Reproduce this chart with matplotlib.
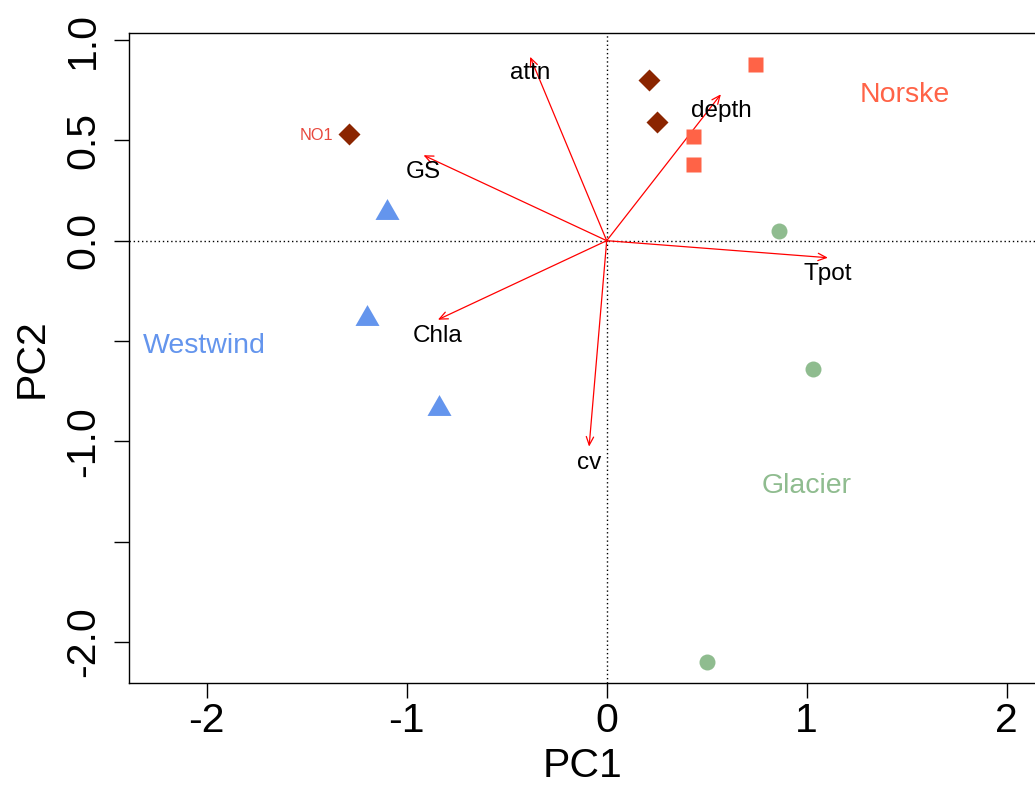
import matplotlib
matplotlib.use("Agg")
import matplotlib.pyplot as plt
from matplotlib.path import Path

plt.rcParams['font.family'] = ['Liberation Sans', 'DejaVu Sans']

# Site scores on the first two principal components, by water mass
westwind_pc1 = [-1.10, -1.20, -0.84]
westwind_pc2 = [0.16, -0.37, -0.82]

norske_pc1 = [0.74, 0.43, 0.43]
norske_pc2 = [0.88, 0.52, 0.38]

glacier_pc1 = [0.86, 1.03, 0.50]
glacier_pc2 = [0.05, -0.64, -2.10]

fjord_pc1 = [-1.29, 0.21, 0.25]
fjord_pc2 = [0.53, 0.80, 0.59]
fjord_names = ["NO1", "", ""]

# Variable loadings (arrow tips)
var_names = ["attn", "GS", "depth", "Tpot", "Chla", "cv"]
var_pc1 = [-0.383, -0.916, 0.571, 1.106, -0.844, -0.088]
var_pc2 = [0.917, 0.426, 0.730, -0.085, -0.394, -1.027]

# Group labels
group_names = ["Norske", "Westwind", "Glacier"]
group_pc1 = [1.49, -2.01, 1.00]
group_pc2 = [0.74, -0.51, -1.21]

x_ticks = [-2, -1, 0, 1, 2]
y_ticks = [1.0, 0.5, 0.0, -0.5, -1.0, -1.5, -2.0]
y_tick_labels = ["1.0", "0.5", "0.0", "", "-1.0", "", "-2.0"]

c_west = "#6495ED"
c_norske = "#FF6347"
c_glacier = "#8FBC8F"
c_fjord = "#8B2500"

W, H = 1035, 785
fig = plt.figure(figsize=(W / 100, H / 100), dpi=100)
left_px, right_px, top_px, bottom_px = 128.7, 1036.5, 33.3, 682.7
ax = fig.add_axes([left_px / W, 1 - bottom_px / H,
                   (right_px - left_px) / W, (bottom_px - top_px) / H])
ax.set_xlim(-2.39, 2.149)
ax.set_ylim(-2.204, 1.034)

# reference lines through the origin
ax.axhline(0, color="black", lw=1.0, ls=(0, (1, 2)), zorder=1)
ax.axvline(0, color="black", lw=1.0, ls=(0, (1, 2)), zorder=1)

# equilateral-ish triangle marker
tri = Path([(0, 1), (-1.15, -1), (1.15, -1), (0, 1)],
           [Path.MOVETO, Path.LINETO, Path.LINETO, Path.CLOSEPOLY])

ax.plot(westwind_pc1, westwind_pc2, ls="none", marker=tri, ms=17.3,
        mfc=c_west, mec="none", zorder=3)
ax.plot(norske_pc1, norske_pc2, ls="none", marker="s", ms=10.8,
        mfc=c_norske, mec="none", zorder=3)
ax.plot(glacier_pc1, glacier_pc2, ls="none", marker="o", ms=11.5,
        mfc=c_glacier, mec="none", zorder=3)
ax.plot(fjord_pc1, fjord_pc2, ls="none", marker="D", ms=11.2,
        mfc=c_fjord, mec="none", zorder=3)

for name, x, y in zip(fjord_names, fjord_pc1, fjord_pc2):
    if name:
        ax.annotate(name, (x, y), xytext=(-11, 0), textcoords="offset points",
                    ha="right", va="center_baseline", fontsize=11.7,
                    color="#E8473C")

# loading arrows and their labels
for name, x, y in zip(var_names, var_pc1, var_pc2):
    ax.annotate("", xy=(x, y), xytext=(0, 0),
                arrowprops=dict(arrowstyle="->,head_length=0.5,head_width=0.22",
                                color="red", lw=0.9, shrinkA=0, shrinkB=0,
                                mutation_scale=12),
                zorder=2)
    ax.annotate(name, (x, y), xytext=(0, -12), textcoords="offset points",
                ha="center", va="center", fontsize=17.5, color="black",
                zorder=4)

for name, x, y, c in zip(group_names, group_pc1, group_pc2,
                         [c_norske, c_west, c_glacier]):
    ax.text(x, y, name, ha="center", va="center_baseline", fontsize=20.5,
            color=c)

# axes, ticks and labels
for side in ["top", "bottom", "left", "right"]:
    ax.spines[side].set_linewidth(1.0)
    ax.spines[side].set_color("black")

ax.set_xticks(x_ticks)
ax.set_xticklabels([str(t) for t in x_ticks])
ax.set_yticks(y_ticks)
ax.set_yticklabels(y_tick_labels, rotation=90, va="center")
ax.tick_params(axis="both", direction="out", length=10.5, width=1.0,
               labelsize=29.5, colors="black")
ax.tick_params(axis="x", pad=3.5)
ax.tick_params(axis="y", pad=8.5)

ax.set_xlabel("PC1", fontsize=29.5, labelpad=5)
ax.set_ylabel("PC2", fontsize=29.5, labelpad=10)

fig.savefig("out.png", dpi=100)
